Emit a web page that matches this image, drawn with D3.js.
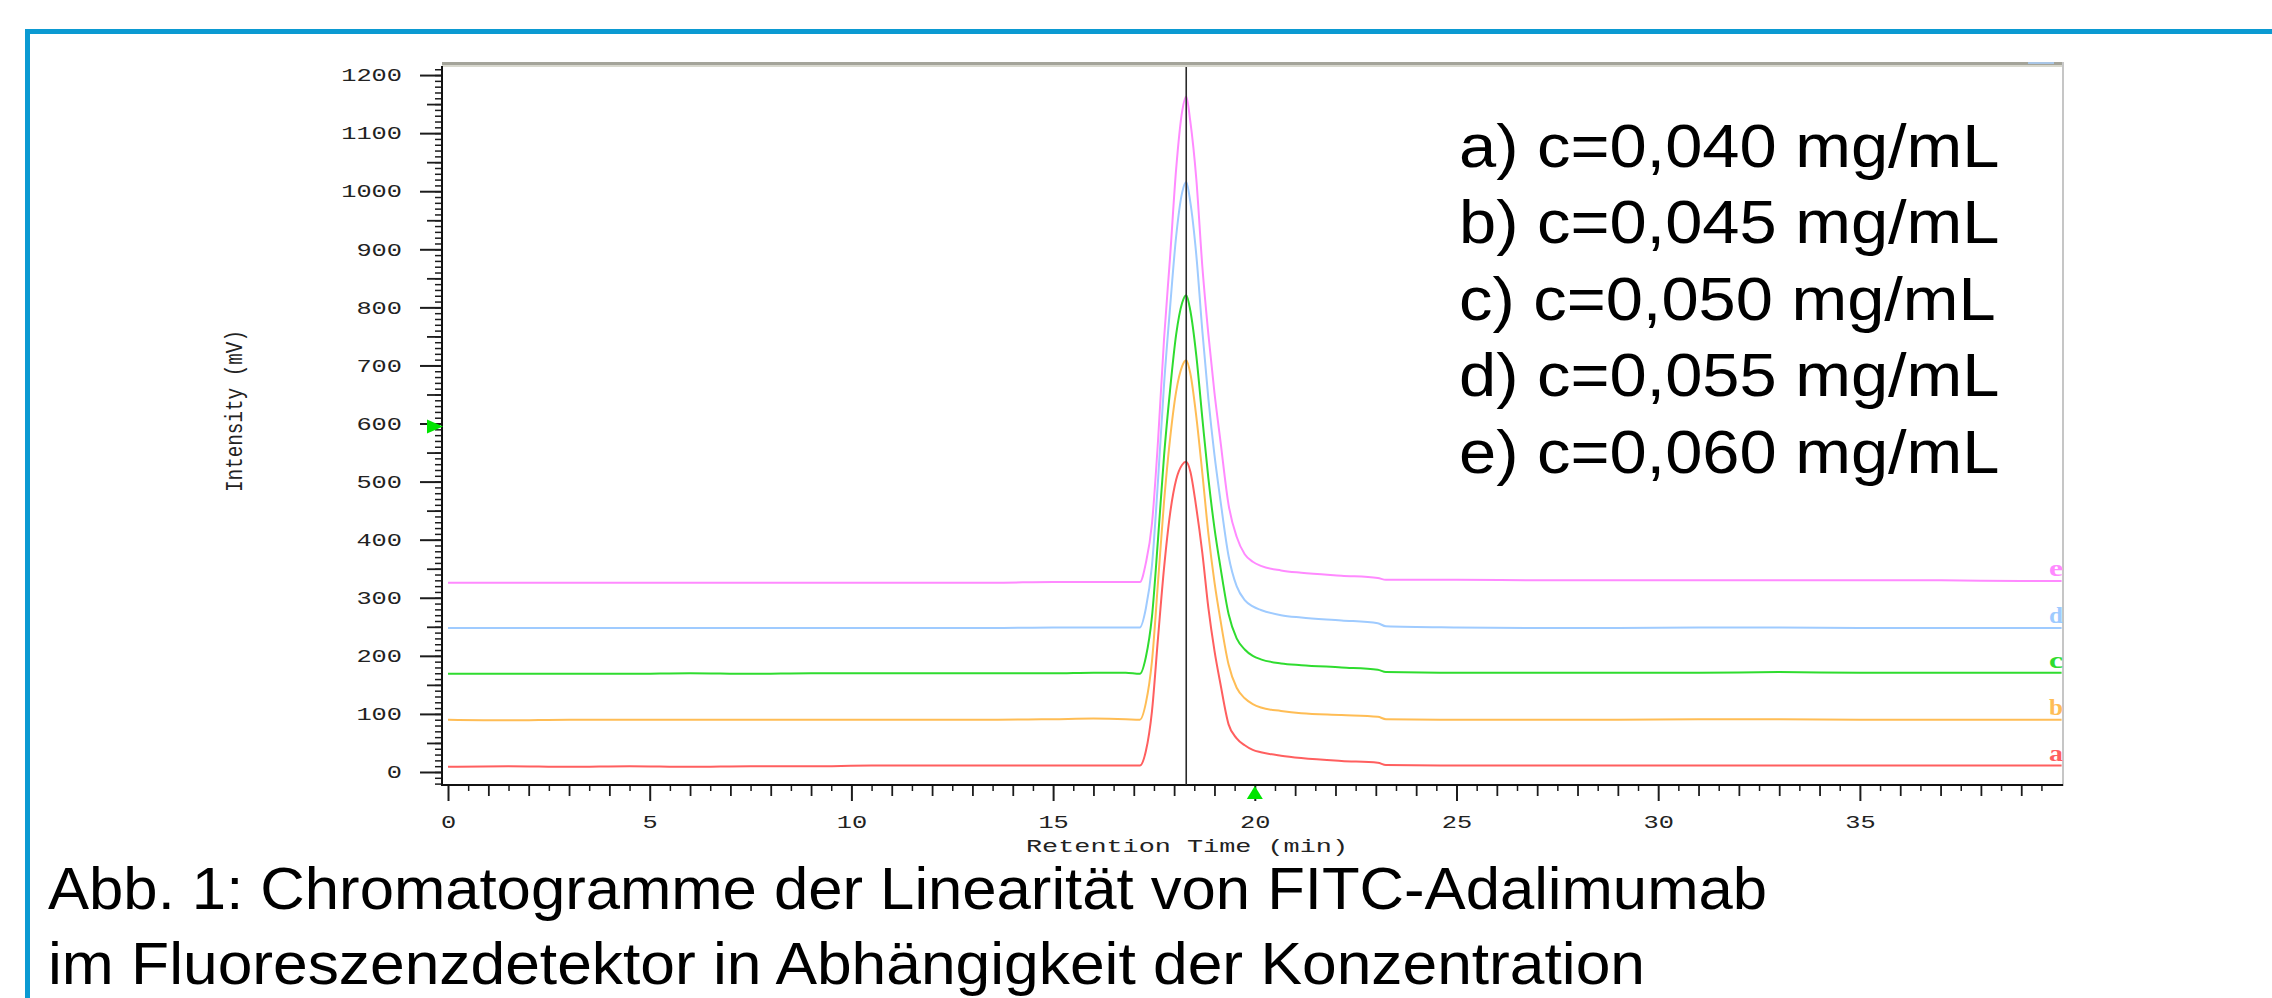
<!DOCTYPE html>
<html>
<head>
<meta charset="utf-8">
<title>Chromatogramme FITC-Adalimumab</title>
<script src="https://cdn.jsdelivr.net/npm/d3@7"></script>
<style>
    body { margin: 0; background: #fff; }
    svg { display: block; }
</style>
</head>
<body>
<svg id="chart" width="2272" height="998"></svg>
<script>
// Retention time grid (min), shared by all five runs
const retentionTimes = [
    0, 1.5, 3, 4.5, 6, 7.5, 9, 10.5, 12, 13.5, 15, 16, 16.8,
    17.15, 17.3, 17.45, 17.6, 17.75, 17.9, 18.05, 18.2, 18.3, 18.4, 18.55, 18.7,
    18.85, 19.0, 19.15, 19.35, 19.55, 19.75, 19.95, 20.15, 20.65, 21.15, 22.15, 23.05, 23.25,
    25, 27, 29, 31, 33, 35, 37, 39, 40
];

// Intensity (mV), one array per concentration
const intensityA = [
    9, 10, 9, 10, 9, 10, 10, 11, 11, 11, 11, 11, 11,
    11, 36, 104, 230, 351, 445, 503, 529, 534, 518, 455, 377,
    282, 209, 151, 82, 58, 46, 38, 34, 28, 24, 19, 16, 12,
    11, 11, 11, 11, 11, 11, 11, 11, 11
];
const intensityB = [
    90, 89, 90, 90, 90, 90, 90, 90, 90, 90, 91, 92, 91,
    90, 119, 190, 326, 465, 574, 655, 699, 709, 687, 612, 514,
    410, 327, 261, 185, 145, 127, 117, 111, 105, 101, 98, 95, 91,
    90, 90, 90, 91, 91, 90, 90, 90, 90
];
const intensityC = [
    169, 169, 169, 169, 170, 169, 170, 170, 170, 170, 170, 171, 171,
    169, 198, 267, 400, 544, 658, 753, 808, 821, 795, 717, 609,
    505, 420, 352, 272, 230, 211, 200, 194, 187, 184, 180, 176, 172,
    171, 171, 171, 171, 172, 171, 171, 171, 171
];
const intensityD = [
    248, 248, 248, 248, 248, 248, 248, 248, 248, 248, 249, 249, 249,
    249, 282, 355, 501, 667, 800, 922, 998, 1016, 982, 890, 759,
    642, 546, 467, 372, 320, 296, 285, 279, 270, 266, 261, 256, 251,
    249, 248, 248, 249, 249, 248, 248, 248, 248
];
const intensityE = [
    326, 326, 326, 326, 326, 326, 326, 326, 326, 326, 327, 327, 327,
    327, 360, 427, 569, 745, 887, 1038, 1138, 1163, 1121, 1021, 870,
    753, 653, 569, 460, 405, 375, 362, 355, 347, 343, 338, 334, 331,
    331, 330, 330, 330, 330, 330, 330, 329, 329
];

const seriesKeys = ['a', 'b', 'c', 'd', 'e'];
const legendLabels = [
    'a) c=0,040 mg/mL',
    'b) c=0,045 mg/mL',
    'c) c=0,050 mg/mL',
    'd) c=0,055 mg/mL',
    'e) c=0,060 mg/mL'
];
const xTickValues = [0, 5, 10, 15, 20, 25, 30, 35];
const yTickValues = [0, 100, 200, 300, 400, 500, 600, 700, 800, 900, 1000, 1100, 1200];
const peakMarkerTime = 18.3;
const yArrowValue = 595;
const xArrowTime = 20;
const captionLines = [
    'Abb. 1: Chromatogramme der Linearität von FITC-Adalimumab',
    'im Fluoreszenzdetektor in Abhängigkeit der Konzentration'
];

// Styles
const lineColors = ['#ff5f5f', '#ffbd55', '#2fdc2f', '#9fcbff', '#ff8aff'];
const monoFont = "'Liberation Mono', 'DejaVu Sans Mono', monospace";
const sansFont = "'Liberation Sans', Arial, sans-serif";

const svg = d3.select('#chart');

// Plot frame geometry
const plotLeft = 442, plotRight = 2063, plotTop = 66, plotBottom = 785;

const x = d3.scaleLinear().domain([-0.149, 40.035]).range([plotLeft, plotRight]);
const y = d3.scaleLinear().domain([-22.4, 1215.6]).range([plotBottom, plotTop]);

// Outer blue figure border
svg.append('path')
    .attr('d', 'M27.5,998 V31.5 H2272')
    .attr('fill', 'none')
    .attr('stroke', '#0b9ad2')
    .attr('stroke-width', 5);

// Top bevel of the plot window and right edge
svg.append('rect')
    .attr('x', plotLeft).attr('y', 62).attr('width', plotRight - plotLeft).attr('height', 3)
    .attr('fill', '#a4a49a');
svg.append('rect')
    .attr('x', plotLeft).attr('y', 65).attr('width', plotRight - plotLeft).attr('height', 2)
    .attr('fill', '#d8d8ce');
svg.append('rect')
    .attr('x', 2028).attr('y', 62).attr('width', 26).attr('height', 2)
    .attr('fill', '#a9c6e6');
svg.append('line')
    .attr('x1', plotRight).attr('x2', plotRight).attr('y1', 62).attr('y2', plotBottom + 1)
    .attr('stroke', '#c6c6c6')
    .attr('stroke-width', 2);

/**
 * Style tick marks of an axis group
 */
function styleTicks(g, width) {
    g.select('.domain').remove();
    g.selectAll('.tick line')
        .attr('stroke', '#1c1c1c')
        .attr('stroke-width', width);
}

/**
 * Style tick labels: wide bitmap-like monospace
 */
function styleLabels(g) {
    g.selectAll('.tick text')
        .attr('fill', '#222')
        .style('font-family', monoFont)
        .style('font-size', '18px')
        .attr('textLength', d => String(d).length * 15.2)
        .attr('lengthAdjust', 'spacingAndGlyphs');
}

// Y axis: minor (10), medium (50), major (100) ticks
svg.append('g')
    .attr('transform', `translate(${plotLeft},0)`)
    .call(d3.axisLeft(y).tickValues(d3.range(-20, 1211, 10)).tickSize(7).tickFormat(''))
    .call(g => styleTicks(g, 1.5));
svg.append('g')
    .attr('transform', `translate(${plotLeft},0)`)
    .call(d3.axisLeft(y).tickValues(d3.range(50, 1200, 100)).tickSize(15).tickFormat(''))
    .call(g => styleTicks(g, 1.8));
svg.append('g')
    .attr('transform', `translate(${plotLeft},0)`)
    .call(d3.axisLeft(y).tickValues(yTickValues).tickSize(22).tickPadding(18).tickFormat(d3.format('d')))
    .call(g => styleTicks(g, 2))
    .call(styleLabels);

// X axis: minor (0.5), medium (1), major (5) ticks
svg.append('g')
    .attr('transform', `translate(0,${plotBottom})`)
    .call(d3.axisBottom(x).tickValues(d3.range(0.5, 40, 1)).tickSize(6).tickFormat(''))
    .call(g => styleTicks(g, 1.5));
svg.append('g')
    .attr('transform', `translate(0,${plotBottom})`)
    .call(d3.axisBottom(x).tickValues(d3.range(1, 40, 1).filter(d => d % 5)).tickSize(11).tickFormat(''))
    .call(g => styleTicks(g, 1.8));
svg.append('g')
    .attr('transform', `translate(0,${plotBottom})`)
    .call(d3.axisBottom(x).tickValues(xTickValues).tickSize(16).tickPadding(14).tickFormat(d3.format('d')))
    .call(g => styleTicks(g, 2))
    .call(styleLabels);

// Axis lines
svg.append('line')
    .attr('x1', plotLeft).attr('x2', plotLeft).attr('y1', plotTop).attr('y2', plotBottom + 1)
    .attr('stroke', '#111').attr('stroke-width', 2);
svg.append('line')
    .attr('x1', plotLeft).attr('x2', plotRight).attr('y1', plotBottom).attr('y2', plotBottom)
    .attr('stroke', '#111').attr('stroke-width', 2);

// Axis titles
svg.append('text')
    .attr('x', 1187)
    .attr('y', 852)
    .attr('text-anchor', 'middle')
    .attr('fill', '#222')
    .attr('textLength', 322)
    .attr('lengthAdjust', 'spacingAndGlyphs')
    .style('font-family', monoFont)
    .style('font-size', '18px')
    .text('Retention Time (min)');

svg.append('text')
    .attr('transform', 'translate(242,411) rotate(-90) scale(1,1.3)')
    .attr('text-anchor', 'middle')
    .attr('fill', '#222')
    .attr('textLength', 162)
    .attr('lengthAdjust', 'spacingAndGlyphs')
    .style('font-family', monoFont)
    .style('font-size', '18px')
    .text('Intensity (mV)');

// Clip traces to the plot window
svg.append('clipPath')
    .attr('id', 'plotClip')
    .append('rect')
    .attr('x', plotLeft + 1).attr('y', plotTop)
    .attr('width', plotRight - plotLeft - 2).attr('height', plotBottom - plotTop);

const seriesValues = [intensityA, intensityB, intensityC, intensityD, intensityE];
const series = seriesKeys.map((key, i) => ({
    key,
    color: lineColors[i],
    points: retentionTimes.map((t, j) => ({ t, v: seriesValues[i][j] }))
}));

const line = d3.line()
    .x(d => x(d.t))
    .y(d => y(d.v))
    .curve(d3.curveMonotoneX);

const traces = svg.append('g').attr('clip-path', 'url(#plotClip)');

traces.selectAll('path')
    .data(series)
    .enter().append('path')
    .attr('d', d => line(d.points))
    .attr('fill', 'none')
    .attr('stroke', d => d.color)
    .attr('stroke-width', 2);

// Peak retention marker
traces.append('line')
    .attr('x1', x(peakMarkerTime)).attr('x2', x(peakMarkerTime))
    .attr('y1', plotTop + 1).attr('y2', plotBottom)
    .attr('stroke', '#2a2a2a')
    .attr('stroke-width', 1.6);

// Trace letters at the right edge
svg.append('g')
    .selectAll('text')
    .data(series)
    .enter().append('text')
    .attr('x', plotRight)
    .attr('y', d => y(d.points[d.points.length - 1].v) - 5)
    .attr('text-anchor', 'end')
    .attr('fill', d => d.color)
    .attr('textLength', 14)
    .attr('lengthAdjust', 'spacingAndGlyphs')
    .style('font-family', "'Liberation Serif', 'DejaVu Serif', serif")
    .style('font-weight', 'bold')
    .style('font-size', '23px')
    .text(d => d.key);

// Green integration markers
const ya = y(yArrowValue);
svg.append('path')
    .attr('d', `M427,${ya - 7} L443,${ya} L427,${ya + 7} Z`)
    .attr('fill', '#00e400');
const xa = x(xArrowTime);
svg.append('path')
    .attr('d', `M${xa},${plotBottom + 1} L${xa + 8},${plotBottom + 14} L${xa - 8},${plotBottom + 14} Z`)
    .attr('fill', '#00e400');

// Concentration legend
svg.append('g')
    .attr('transform', 'translate(1459,0) scale(1.078,1)')
    .selectAll('text')
    .data(legendLabels)
    .enter().append('text')
    .attr('x', 0)
    .attr('y', (d, i) => 167 + i * 76.5)
    .attr('fill', '#000')
    .style('font-family', sansFont)
    .style('font-size', '62px')
    .text(d => d);

// Figure caption
const captionWidths = [1719, 1597];
svg.append('g')
    .selectAll('text')
    .data(captionLines)
    .enter().append('text')
    .attr('x', 48)
    .attr('y', (d, i) => 909 + i * 75)
    .attr('fill', '#000')
    .attr('textLength', (d, i) => captionWidths[i])
    .attr('lengthAdjust', 'spacingAndGlyphs')
    .style('font-family', sansFont)
    .style('font-size', '60px')
    .text(d => d);
</script>
</body>
</html>
